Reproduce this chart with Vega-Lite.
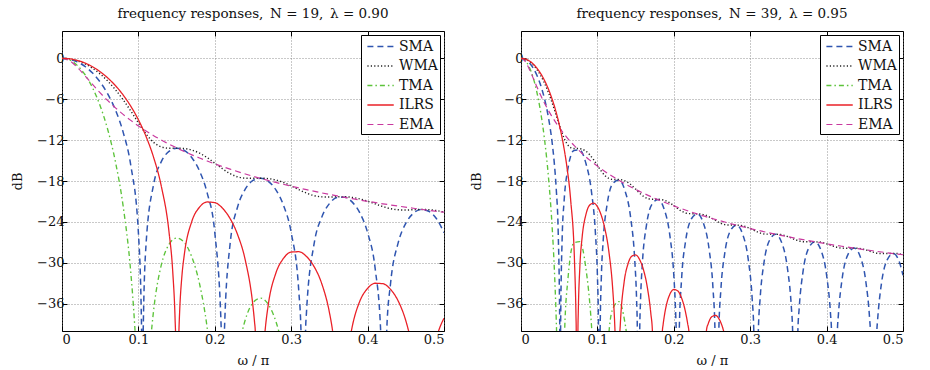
{
  "$schema": "https://vega.github.io/schema/vega-lite/v6.json",
  "padding": {"left": 11, "top": 6, "right": 5, "bottom": 4},
  "background": "white",
  "config": {
    "font": "DejaVu Serif",
    "view": {"stroke": "black", "strokeWidth": 1},
    "title": {"font": "DejaVu Serif", "fontSize": 13.5, "fontWeight": "normal", "color": "#111", "offset": 10, "anchor": "middle", "frame": "group"},
    "axis": {"labelFont": "DejaVu Serif", "titleFont": "DejaVu Serif", "labelFontSize": 13, "titleFontSize": 13, "titleFontWeight": "normal", "labelColor": "#111", "titleColor": "#111", "tickColor": "#000", "domain": false}
  },
  "datasets": {
    "d": [
      {"p":"L","s":"SMA","x":0,"y":0},{"p":"L","s":"SMA","x":0.01,"y":-0.129},{"p":"L","s":"SMA","x":0.02,"y":-0.521},{"p":"L","s":"SMA","x":0.03,"y":-1.19},{"p":"L","s":"SMA","x":0.04,"y":-2.165},{"p":"L","s":"SMA","x":0.05,"y":-3.495},{"p":"L","s":"SMA","x":0.06,"y":-5.26},{"p":"L","s":"SMA","x":0.07,"y":-7.605},{"p":"L","s":"SMA","x":0.08,"y":-10.828},{"p":"L","s":"SMA","x":0.09,"y":-15.685},{"p":"L","s":"SMA","x":0.1,"y":-25.575},{"p":"L","s":"SMA","x":0.1042,"y":-40},{"p":"L","s":"SMA","x":0.10526,"y":-100},{"p":"L","s":"SMA","x":0.1063,"y":-40},{"p":"L","s":"SMA","x":0.11,"y":-27.304},{"p":"L","s":"SMA","x":0.12,"y":-18.447},{"p":"L","s":"SMA","x":0.13,"y":-15.156},{"p":"L","s":"SMA","x":0.14,"y":-13.653},{"p":"L","s":"SMA","x":0.15,"y":-13.182},{"p":"L","s":"SMA","x":0.16,"y":-13.505},{"p":"L","s":"SMA","x":0.17,"y":-14.583},{"p":"L","s":"SMA","x":0.18,"y":-16.533},{"p":"L","s":"SMA","x":0.19,"y":-19.749},{"p":"L","s":"SMA","x":0.2,"y":-25.576},{"p":"L","s":"SMA","x":0.2085,"y":-40},{"p":"L","s":"SMA","x":0.21053,"y":-100},{"p":"L","s":"SMA","x":0.2126,"y":-40},{"p":"L","s":"SMA","x":0.22,"y":-27.26},{"p":"L","s":"SMA","x":0.23,"y":-21.75},{"p":"L","s":"SMA","x":0.24,"y":-19.16},{"p":"L","s":"SMA","x":0.25,"y":-17.92},{"p":"L","s":"SMA","x":0.26,"y":-17.593},{"p":"L","s":"SMA","x":0.27,"y":-18.045},{"p":"L","s":"SMA","x":0.28,"y":-19.306},{"p":"L","s":"SMA","x":0.29,"y":-21.592},{"p":"L","s":"SMA","x":0.3,"y":-25.575},{"p":"L","s":"SMA","x":0.31,"y":-34.272},{"p":"L","s":"SMA","x":0.3128,"y":-40},{"p":"L","s":"SMA","x":0.31579,"y":-100},{"p":"L","s":"SMA","x":0.3188,"y":-40},{"p":"L","s":"SMA","x":0.32,"y":-37.27},{"p":"L","s":"SMA","x":0.33,"y":-27.188},{"p":"L","s":"SMA","x":0.34,"y":-23.302},{"p":"L","s":"SMA","x":0.35,"y":-21.321},{"p":"L","s":"SMA","x":0.36,"y":-20.432},{"p":"L","s":"SMA","x":0.37,"y":-20.377},{"p":"L","s":"SMA","x":0.38,"y":-21.1},{"p":"L","s":"SMA","x":0.39,"y":-22.711},{"p":"L","s":"SMA","x":0.4,"y":-25.575},{"p":"L","s":"SMA","x":0.41,"y":-30.936},{"p":"L","s":"SMA","x":0.4171,"y":-40},{"p":"L","s":"SMA","x":0.42105,"y":-100},{"p":"L","s":"SMA","x":0.425,"y":-40},{"p":"L","s":"SMA","x":0.43,"y":-33.068},{"p":"L","s":"SMA","x":0.44,"y":-27.083},{"p":"L","s":"SMA","x":0.45,"y":-24.205},{"p":"L","s":"SMA","x":0.46,"y":-22.729},{"p":"L","s":"SMA","x":0.47,"y":-22.189},{"p":"L","s":"SMA","x":0.48,"y":-22.438},{"p":"L","s":"SMA","x":0.49,"y":-23.499},{"p":"L","s":"SMA","x":0.5,"y":-25.575},

      {"p":"L","s":"TMA","x":0,"y":0},{"p":"L","s":"TMA","x":0.01,"y":-0.258},{"p":"L","s":"TMA","x":0.02,"y":-1.042},{"p":"L","s":"TMA","x":0.03,"y":-2.38},{"p":"L","s":"TMA","x":0.04,"y":-4.33},{"p":"L","s":"TMA","x":0.05,"y":-6.99},{"p":"L","s":"TMA","x":0.06,"y":-10.52},{"p":"L","s":"TMA","x":0.07,"y":-15.21},{"p":"L","s":"TMA","x":0.08,"y":-21.656},{"p":"L","s":"TMA","x":0.09,"y":-31.37},{"p":"L","s":"TMA","x":0.095,"y":-38.87},{"p":"L","s":"TMA","x":0.096,"y":-40.78},{"p":"L","s":"TMA","x":0.10526,"y":-100},{"p":"L","s":"TMA","x":0.117,"y":-40.21},{"p":"L","s":"TMA","x":0.118,"y":-38.99},{"p":"L","s":"TMA","x":0.12,"y":-36.894},{"p":"L","s":"TMA","x":0.13,"y":-30.312},{"p":"L","s":"TMA","x":0.14,"y":-27.306},{"p":"L","s":"TMA","x":0.15,"y":-26.364},{"p":"L","s":"TMA","x":0.16,"y":-27.01},{"p":"L","s":"TMA","x":0.17,"y":-29.166},{"p":"L","s":"TMA","x":0.18,"y":-33.066},{"p":"L","s":"TMA","x":0.19,"y":-39.498},{"p":"L","s":"TMA","x":0.191,"y":-40.35},{"p":"L","s":"TMA","x":0.21053,"y":-100},{"p":"L","s":"TMA","x":0.235,"y":-40.47},{"p":"L","s":"TMA","x":0.236,"y":-39.98},{"p":"L","s":"TMA","x":0.24,"y":-38.32},{"p":"L","s":"TMA","x":0.25,"y":-35.84},{"p":"L","s":"TMA","x":0.26,"y":-35.186},{"p":"L","s":"TMA","x":0.27,"y":-36.09},{"p":"L","s":"TMA","x":0.28,"y":-38.612},{"p":"L","s":"TMA","x":0.283,"y":-39.73},{"p":"L","s":"TMA","x":0.284,"y":-40.15},{"p":"L","s":"TMA","x":0.31579,"y":-100},{"p":"L","s":"TMA","x":0.5,"y":-100},

      {"p":"L","s":"WMA","x":0,"y":0},{"p":"L","s":"WMA","x":0.01,"y":-0.09},{"p":"L","s":"WMA","x":0.02,"y":-0.362},{"p":"L","s":"WMA","x":0.03,"y":-0.818},{"p":"L","s":"WMA","x":0.04,"y":-1.465},{"p":"L","s":"WMA","x":0.05,"y":-2.306},{"p":"L","s":"WMA","x":0.06,"y":-3.358},{"p":"L","s":"WMA","x":0.07,"y":-4.616},{"p":"L","s":"WMA","x":0.08,"y":-6.083},{"p":"L","s":"WMA","x":0.09,"y":-7.729},{"p":"L","s":"WMA","x":0.1,"y":-9.461},{"p":"L","s":"WMA","x":0.11,"y":-11.091},{"p":"L","s":"WMA","x":0.12,"y":-12.335},{"p":"L","s":"WMA","x":0.13,"y":-12.998},{"p":"L","s":"WMA","x":0.14,"y":-13.188},{"p":"L","s":"WMA","x":0.15,"y":-13.181},{"p":"L","s":"WMA","x":0.16,"y":-13.233},{"p":"L","s":"WMA","x":0.17,"y":-13.464},{"p":"L","s":"WMA","x":0.18,"y":-13.915},{"p":"L","s":"WMA","x":0.19,"y":-14.574},{"p":"L","s":"WMA","x":0.2,"y":-15.375},{"p":"L","s":"WMA","x":0.21,"y":-16.208},{"p":"L","s":"WMA","x":0.22,"y":-16.924},{"p":"L","s":"WMA","x":0.23,"y":-17.394},{"p":"L","s":"WMA","x":0.24,"y":-17.591},{"p":"L","s":"WMA","x":0.25,"y":-17.606},{"p":"L","s":"WMA","x":0.26,"y":-17.592},{"p":"L","s":"WMA","x":0.27,"y":-17.651},{"p":"L","s":"WMA","x":0.28,"y":-17.861},{"p":"L","s":"WMA","x":0.29,"y":-18.225},{"p":"L","s":"WMA","x":0.3,"y":-18.715},{"p":"L","s":"WMA","x":0.31,"y":-19.265},{"p":"L","s":"WMA","x":0.32,"y":-19.774},{"p":"L","s":"WMA","x":0.33,"y":-20.141},{"p":"L","s":"WMA","x":0.34,"y":-20.323},{"p":"L","s":"WMA","x":0.35,"y":-20.349},{"p":"L","s":"WMA","x":0.36,"y":-20.316},{"p":"L","s":"WMA","x":0.37,"y":-20.314},{"p":"L","s":"WMA","x":0.38,"y":-20.408},{"p":"L","s":"WMA","x":0.39,"y":-20.627},{"p":"L","s":"WMA","x":0.4,"y":-20.96},{"p":"L","s":"WMA","x":0.41,"y":-21.358},{"p":"L","s":"WMA","x":0.42,"y":-21.75},{"p":"L","s":"WMA","x":0.43,"y":-22.055},{"p":"L","s":"WMA","x":0.44,"y":-22.221},{"p":"L","s":"WMA","x":0.45,"y":-22.254},{"p":"L","s":"WMA","x":0.46,"y":-22.215},{"p":"L","s":"WMA","x":0.47,"y":-22.179},{"p":"L","s":"WMA","x":0.48,"y":-22.206},{"p":"L","s":"WMA","x":0.49,"y":-22.334},{"p":"L","s":"WMA","x":0.5,"y":-22.565},

      {"p":"L","s":"EMA","x":0,"y":0},{"p":"L","s":"EMA","x":0.01,"y":-0.369},{"p":"L","s":"EMA","x":0.02,"y":-1.32},{"p":"L","s":"EMA","x":0.03,"y":-2.55},{"p":"L","s":"EMA","x":0.04,"y":-3.837},{"p":"L","s":"EMA","x":0.05,"y":-5.074},{"p":"L","s":"EMA","x":0.06,"y":-6.221},{"p":"L","s":"EMA","x":0.07,"y":-7.271},{"p":"L","s":"EMA","x":0.08,"y":-8.232},{"p":"L","s":"EMA","x":0.09,"y":-9.11},{"p":"L","s":"EMA","x":0.1,"y":-9.917},{"p":"L","s":"EMA","x":0.11,"y":-10.66},{"p":"L","s":"EMA","x":0.12,"y":-11.348},{"p":"L","s":"EMA","x":0.13,"y":-11.988},{"p":"L","s":"EMA","x":0.14,"y":-12.584},{"p":"L","s":"EMA","x":0.15,"y":-13.143},{"p":"L","s":"EMA","x":0.16,"y":-13.667},{"p":"L","s":"EMA","x":0.17,"y":-14.161},{"p":"L","s":"EMA","x":0.18,"y":-14.627},{"p":"L","s":"EMA","x":0.19,"y":-15.068},{"p":"L","s":"EMA","x":0.2,"y":-15.487},{"p":"L","s":"EMA","x":0.22,"y":-16.264},{"p":"L","s":"EMA","x":0.24,"y":-16.971},{"p":"L","s":"EMA","x":0.26,"y":-17.618},{"p":"L","s":"EMA","x":0.28,"y":-18.213},{"p":"L","s":"EMA","x":0.3,"y":-18.762},{"p":"L","s":"EMA","x":0.32,"y":-19.271},{"p":"L","s":"EMA","x":0.34,"y":-19.744},{"p":"L","s":"EMA","x":0.36,"y":-20.185},{"p":"L","s":"EMA","x":0.38,"y":-20.597},{"p":"L","s":"EMA","x":0.4,"y":-20.982},{"p":"L","s":"EMA","x":0.42,"y":-21.343},{"p":"L","s":"EMA","x":0.44,"y":-21.681},{"p":"L","s":"EMA","x":0.46,"y":-21.999},{"p":"L","s":"EMA","x":0.48,"y":-22.297},{"p":"L","s":"EMA","x":0.5,"y":-22.577},

      {"p":"L","s":"ILRS","x":0,"y":0},{"p":"L","s":"ILRS","x":0.01,"y":-0.076},{"p":"L","s":"ILRS","x":0.02,"y":-0.308},{"p":"L","s":"ILRS","x":0.03,"y":-0.696},{"p":"L","s":"ILRS","x":0.04,"y":-1.251},{"p":"L","s":"ILRS","x":0.05,"y":-1.979},{"p":"L","s":"ILRS","x":0.06,"y":-2.896},{"p":"L","s":"ILRS","x":0.07,"y":-4.021},{"p":"L","s":"ILRS","x":0.08,"y":-5.384},{"p":"L","s":"ILRS","x":0.09,"y":-7.028},{"p":"L","s":"ILRS","x":0.1,"y":-9.019},{"p":"L","s":"ILRS","x":0.11,"y":-11.466},{"p":"L","s":"ILRS","x":0.12,"y":-14.569},{"p":"L","s":"ILRS","x":0.13,"y":-18.769},{"p":"L","s":"ILRS","x":0.14,"y":-25.409},{"p":"L","s":"ILRS","x":0.145,"y":-31.39},{"p":"L","s":"ILRS","x":0.148,"y":-38.21},{"p":"L","s":"ILRS","x":0.149,"y":-42.34},{"p":"L","s":"ILRS","x":0.1507,"y":-100},{"p":"L","s":"ILRS","x":0.152,"y":-44.97},{"p":"L","s":"ILRS","x":0.153,"y":-40.13},{"p":"L","s":"ILRS","x":0.154,"y":-37.12},{"p":"L","s":"ILRS","x":0.157,"y":-31.87},{"p":"L","s":"ILRS","x":0.16,"y":-28.867},{"p":"L","s":"ILRS","x":0.17,"y":-23.898},{"p":"L","s":"ILRS","x":0.18,"y":-21.836},{"p":"L","s":"ILRS","x":0.19,"y":-21.077},{"p":"L","s":"ILRS","x":0.2,"y":-21.173},{"p":"L","s":"ILRS","x":0.21,"y":-21.981},{"p":"L","s":"ILRS","x":0.22,"y":-23.507},{"p":"L","s":"ILRS","x":0.23,"y":-25.909},{"p":"L","s":"ILRS","x":0.24,"y":-29.656},{"p":"L","s":"ILRS","x":0.25,"y":-36.42},{"p":"L","s":"ILRS","x":0.252,"y":-38.67},{"p":"L","s":"ILRS","x":0.253,"y":-40.04},{"p":"L","s":"ILRS","x":0.2591,"y":-100},{"p":"L","s":"ILRS","x":0.265,"y":-41.05},{"p":"L","s":"ILRS","x":0.266,"y":-39.77},{"p":"L","s":"ILRS","x":0.27,"y":-36.14},{"p":"L","s":"ILRS","x":0.28,"y":-31.486},{"p":"L","s":"ILRS","x":0.29,"y":-29.335},{"p":"L","s":"ILRS","x":0.3,"y":-28.423},{"p":"L","s":"ILRS","x":0.31,"y":-28.372},{"p":"L","s":"ILRS","x":0.32,"y":-29.071},{"p":"L","s":"ILRS","x":0.33,"y":-30.559},{"p":"L","s":"ILRS","x":0.34,"y":-33.061},{"p":"L","s":"ILRS","x":0.35,"y":-37.26},{"p":"L","s":"ILRS","x":0.354,"y":-39.84},{"p":"L","s":"ILRS","x":0.355,"y":-40.64},{"p":"L","s":"ILRS","x":0.3657,"y":-100},{"p":"L","s":"ILRS","x":0.378,"y":-40.45},{"p":"L","s":"ILRS","x":0.379,"y":-39.84},{"p":"L","s":"ILRS","x":0.38,"y":-39.29},{"p":"L","s":"ILRS","x":0.39,"y":-35.575},{"p":"L","s":"ILRS","x":0.4,"y":-33.747},{"p":"L","s":"ILRS","x":0.41,"y":-32.997},{"p":"L","s":"ILRS","x":0.42,"y":-33.065},{"p":"L","s":"ILRS","x":0.43,"y":-33.897},{"p":"L","s":"ILRS","x":0.44,"y":-35.588},{"p":"L","s":"ILRS","x":0.45,"y":-38.485},{"p":"L","s":"ILRS","x":0.453,"y":-39.71},{"p":"L","s":"ILRS","x":0.454,"y":-40.17},{"p":"L","s":"ILRS","x":0.4718,"y":-100},{"p":"L","s":"ILRS","x":0.492,"y":-40.29},{"p":"L","s":"ILRS","x":0.493,"y":-39.95},{"p":"L","s":"ILRS","x":0.5,"y":-38.128},

      {"p":"R","s":"SMA","x":0,"y":0},{"p":"R","s":"SMA","x":0.005128,"y":-0.142},{"p":"R","s":"SMA","x":0.010256,"y":-0.579},{"p":"R","s":"SMA","x":0.015385,"y":-1.325},{"p":"R","s":"SMA","x":0.020513,"y":-2.418},{"p":"R","s":"SMA","x":0.025641,"y":-3.92},{"p":"R","s":"SMA","x":0.030769,"y":-5.939},{"p":"R","s":"SMA","x":0.035897,"y":-8.681},{"p":"R","s":"SMA","x":0.041026,"y":-12.614},{"p":"R","s":"SMA","x":0.04359,"y":-15.383},{"p":"R","s":"SMA","x":0.046154,"y":-19.22},{"p":"R","s":"SMA","x":0.048718,"y":-25.602},{"p":"R","s":"SMA","x":0.050769,"y":-40},{"p":"R","s":"SMA","x":0.051282,"y":-100},{"p":"R","s":"SMA","x":0.051795,"y":-40},{"p":"R","s":"SMA","x":0.053846,"y":-26.47},{"p":"R","s":"SMA","x":0.05641,"y":-20.961},{"p":"R","s":"SMA","x":0.061538,"y":-16.129},{"p":"R","s":"SMA","x":0.069231,"y":-13.536},{"p":"R","s":"SMA","x":0.076923,"y":-13.444},{"p":"R","s":"SMA","x":0.084615,"y":-15.27},{"p":"R","s":"SMA","x":0.092308,"y":-19.634},{"p":"R","s":"SMA","x":0.097436,"y":-25.685},{"p":"R","s":"SMA","x":0.1,"y":-31.821},{"p":"R","s":"SMA","x":0.101538,"y":-40},{"p":"R","s":"SMA","x":0.102564,"y":-100},{"p":"R","s":"SMA","x":0.10359,"y":-40},{"p":"R","s":"SMA","x":0.105128,"y":-32.252},{"p":"R","s":"SMA","x":0.107692,"y":-26.547},{"p":"R","s":"SMA","x":0.112821,"y":-21.362},{"p":"R","s":"SMA","x":0.120513,"y":-18.315},{"p":"R","s":"SMA","x":0.128205,"y":-17.843},{"p":"R","s":"SMA","x":0.135897,"y":-19.345},{"p":"R","s":"SMA","x":0.14359,"y":-23.428},{"p":"R","s":"SMA","x":0.148718,"y":-29.313},{"p":"R","s":"SMA","x":0.151282,"y":-35.37},{"p":"R","s":"SMA","x":0.152308,"y":-40},{"p":"R","s":"SMA","x":0.153846,"y":-100},{"p":"R","s":"SMA","x":0.155385,"y":-40},{"p":"R","s":"SMA","x":0.15641,"y":-35.655},{"p":"R","s":"SMA","x":0.158974,"y":-29.881},{"p":"R","s":"SMA","x":0.164103,"y":-24.566},{"p":"R","s":"SMA","x":0.171795,"y":-21.342},{"p":"R","s":"SMA","x":0.179487,"y":-20.709},{"p":"R","s":"SMA","x":0.187179,"y":-22.066},{"p":"R","s":"SMA","x":0.194872,"y":-26.019},{"p":"R","s":"SMA","x":0.2,"y":-31.822},{"p":"R","s":"SMA","x":0.202564,"y":-37.84},{"p":"R","s":"SMA","x":0.203128,"y":-40},{"p":"R","s":"SMA","x":0.205128,"y":-100},{"p":"R","s":"SMA","x":0.207128,"y":-40},{"p":"R","s":"SMA","x":0.210256,"y":-32.242},{"p":"R","s":"SMA","x":0.215385,"y":-26.858},{"p":"R","s":"SMA","x":0.223077,"y":-23.538},{"p":"R","s":"SMA","x":0.230769,"y":-22.816},{"p":"R","s":"SMA","x":0.238462,"y":-24.091},{"p":"R","s":"SMA","x":0.246154,"y":-27.967},{"p":"R","s":"SMA","x":0.251282,"y":-33.722},{"p":"R","s":"SMA","x":0.253897,"y":-40},{"p":"R","s":"SMA","x":0.25641,"y":-100},{"p":"R","s":"SMA","x":0.258923,"y":-40},{"p":"R","s":"SMA","x":0.261538,"y":-34.05},{"p":"R","s":"SMA","x":0.266667,"y":-28.624},{"p":"R","s":"SMA","x":0.274359,"y":-25.243},{"p":"R","s":"SMA","x":0.282051,"y":-24.465},{"p":"R","s":"SMA","x":0.289744,"y":-25.686},{"p":"R","s":"SMA","x":0.297436,"y":-29.51},{"p":"R","s":"SMA","x":0.302564,"y":-35.233},{"p":"R","s":"SMA","x":0.304718,"y":-40},{"p":"R","s":"SMA","x":0.307692,"y":-100},{"p":"R","s":"SMA","x":0.310667,"y":-40},{"p":"R","s":"SMA","x":0.312821,"y":-35.499},{"p":"R","s":"SMA","x":0.317949,"y":-30.043},{"p":"R","s":"SMA","x":0.325641,"y":-26.62},{"p":"R","s":"SMA","x":0.333333,"y":-25.801},{"p":"R","s":"SMA","x":0.341026,"y":-26.983},{"p":"R","s":"SMA","x":0.348718,"y":-30.771},{"p":"R","s":"SMA","x":0.353846,"y":-36.47},{"p":"R","s":"SMA","x":0.355538,"y":-40},{"p":"R","s":"SMA","x":0.358974,"y":-100},{"p":"R","s":"SMA","x":0.36241,"y":-40},{"p":"R","s":"SMA","x":0.364103,"y":-36.69},{"p":"R","s":"SMA","x":0.369231,"y":-31.214},{"p":"R","s":"SMA","x":0.376923,"y":-27.759},{"p":"R","s":"SMA","x":0.384615,"y":-26.91},{"p":"R","s":"SMA","x":0.392308,"y":-28.063},{"p":"R","s":"SMA","x":0.4,"y":-31.822},{"p":"R","s":"SMA","x":0.405128,"y":-37.502},{"p":"R","s":"SMA","x":0.40641,"y":-40},{"p":"R","s":"SMA","x":0.410256,"y":-100},{"p":"R","s":"SMA","x":0.414103,"y":-40},{"p":"R","s":"SMA","x":0.415385,"y":-37.69},{"p":"R","s":"SMA","x":0.420513,"y":-32.195},{"p":"R","s":"SMA","x":0.428205,"y":-28.716},{"p":"R","s":"SMA","x":0.435897,"y":-27.842},{"p":"R","s":"SMA","x":0.44359,"y":-28.972},{"p":"R","s":"SMA","x":0.451282,"y":-32.707},{"p":"R","s":"SMA","x":0.45641,"y":-38.375},{"p":"R","s":"SMA","x":0.457282,"y":-40},{"p":"R","s":"SMA","x":0.461538,"y":-100},{"p":"R","s":"SMA","x":0.465795,"y":-40},{"p":"R","s":"SMA","x":0.466667,"y":-38.534},{"p":"R","s":"SMA","x":0.471795,"y":-33.027},{"p":"R","s":"SMA","x":0.479487,"y":-29.527},{"p":"R","s":"SMA","x":0.487179,"y":-28.634},{"p":"R","s":"SMA","x":0.494872,"y":-29.745},{"p":"R","s":"SMA","x":0.5,"y":-31.823},

      {"p":"R","s":"TMA","x":0,"y":0},{"p":"R","s":"TMA","x":0.005128,"y":-0.284},{"p":"R","s":"TMA","x":0.010256,"y":-1.158},{"p":"R","s":"TMA","x":0.015385,"y":-2.65},{"p":"R","s":"TMA","x":0.020513,"y":-4.836},{"p":"R","s":"TMA","x":0.025641,"y":-7.84},{"p":"R","s":"TMA","x":0.030769,"y":-11.878},{"p":"R","s":"TMA","x":0.035897,"y":-17.362},{"p":"R","s":"TMA","x":0.041026,"y":-25.228},{"p":"R","s":"TMA","x":0.04359,"y":-30.78},{"p":"R","s":"TMA","x":0.046154,"y":-38.44},{"p":"R","s":"TMA","x":0.046554,"y":-40},{"p":"R","s":"TMA","x":0.051282,"y":-100},{"p":"R","s":"TMA","x":0.057118,"y":-40},{"p":"R","s":"TMA","x":0.061538,"y":-32.258},{"p":"R","s":"TMA","x":0.069231,"y":-27.072},{"p":"R","s":"TMA","x":0.076923,"y":-26.888},{"p":"R","s":"TMA","x":0.084615,"y":-30.54},{"p":"R","s":"TMA","x":0.092308,"y":-39.268},{"p":"R","s":"TMA","x":0.092738,"y":-40},{"p":"R","s":"TMA","x":0.102564,"y":-100},{"p":"R","s":"TMA","x":0.115292,"y":-40},{"p":"R","s":"TMA","x":0.120513,"y":-36.63},{"p":"R","s":"TMA","x":0.128205,"y":-35.686},{"p":"R","s":"TMA","x":0.135897,"y":-38.69},{"p":"R","s":"TMA","x":0.137703,"y":-40},{"p":"R","s":"TMA","x":0.153846,"y":-100},{"p":"R","s":"TMA","x":0.5,"y":-100},

      {"p":"R","s":"WMA","x":0,"y":0},{"p":"R","s":"WMA","x":0.005,"y":-0.092},{"p":"R","s":"WMA","x":0.01,"y":-0.373},{"p":"R","s":"WMA","x":0.015,"y":-0.843},{"p":"R","s":"WMA","x":0.02,"y":-1.51},{"p":"R","s":"WMA","x":0.025,"y":-2.38},{"p":"R","s":"WMA","x":0.03,"y":-3.461},{"p":"R","s":"WMA","x":0.035,"y":-4.761},{"p":"R","s":"WMA","x":0.04,"y":-6.27},{"p":"R","s":"WMA","x":0.045,"y":-7.957},{"p":"R","s":"WMA","x":0.05,"y":-9.714},{"p":"R","s":"WMA","x":0.055,"y":-11.33},{"p":"R","s":"WMA","x":0.06,"y":-12.511},{"p":"R","s":"WMA","x":0.065,"y":-13.096},{"p":"R","s":"WMA","x":0.07,"y":-13.24},{"p":"R","s":"WMA","x":0.075,"y":-13.246},{"p":"R","s":"WMA","x":0.08,"y":-13.341},{"p":"R","s":"WMA","x":0.085,"y":-13.634},{"p":"R","s":"WMA","x":0.09,"y":-14.153},{"p":"R","s":"WMA","x":0.095,"y":-14.869},{"p":"R","s":"WMA","x":0.1,"y":-15.708},{"p":"R","s":"WMA","x":0.105,"y":-16.543},{"p":"R","s":"WMA","x":0.11,"y":-17.215},{"p":"R","s":"WMA","x":0.115,"y":-17.618},{"p":"R","s":"WMA","x":0.12,"y":-17.764},{"p":"R","s":"WMA","x":0.125,"y":-17.774},{"p":"R","s":"WMA","x":0.13,"y":-17.795},{"p":"R","s":"WMA","x":0.135,"y":-17.924},{"p":"R","s":"WMA","x":0.14,"y":-18.208},{"p":"R","s":"WMA","x":0.145,"y":-18.644},{"p":"R","s":"WMA","x":0.15,"y":-19.186},{"p":"R","s":"WMA","x":0.155,"y":-19.747},{"p":"R","s":"WMA","x":0.16,"y":-20.223},{"p":"R","s":"WMA","x":0.165,"y":-20.532},{"p":"R","s":"WMA","x":0.17,"y":-20.663},{"p":"R","s":"WMA","x":0.175,"y":-20.68},{"p":"R","s":"WMA","x":0.18,"y":-20.679},{"p":"R","s":"WMA","x":0.185,"y":-20.746},{"p":"R","s":"WMA","x":0.19,"y":-20.927},{"p":"R","s":"WMA","x":0.195,"y":-21.229},{"p":"R","s":"WMA","x":0.2,"y":-21.622},{"p":"R","s":"WMA","x":0.21,"y":-22.414},{"p":"R","s":"WMA","x":0.22,"y":-22.787},{"p":"R","s":"WMA","x":0.23,"y":-22.798},{"p":"R","s":"WMA","x":0.24,"y":-22.954},{"p":"R","s":"WMA","x":0.25,"y":-23.48},{"p":"R","s":"WMA","x":0.26,"y":-24.121},{"p":"R","s":"WMA","x":0.27,"y":-24.447},{"p":"R","s":"WMA","x":0.28,"y":-24.455},{"p":"R","s":"WMA","x":0.29,"y":-24.554},{"p":"R","s":"WMA","x":0.3,"y":-24.965},{"p":"R","s":"WMA","x":0.31,"y":-25.502},{"p":"R","s":"WMA","x":0.32,"y":-25.794},{"p":"R","s":"WMA","x":0.33,"y":-25.799},{"p":"R","s":"WMA","x":0.34,"y":-25.858},{"p":"R","s":"WMA","x":0.35,"y":-26.186},{"p":"R","s":"WMA","x":0.36,"y":-26.646},{"p":"R","s":"WMA","x":0.37,"y":-26.911},{"p":"R","s":"WMA","x":0.38,"y":-26.916},{"p":"R","s":"WMA","x":0.39,"y":-26.943},{"p":"R","s":"WMA","x":0.4,"y":-27.206},{"p":"R","s":"WMA","x":0.41,"y":-27.605},{"p":"R","s":"WMA","x":0.42,"y":-27.85},{"p":"R","s":"WMA","x":0.43,"y":-27.852},{"p":"R","s":"WMA","x":0.44,"y":-27.854},{"p":"R","s":"WMA","x":0.45,"y":-28.066},{"p":"R","s":"WMA","x":0.46,"y":-28.415},{"p":"R","s":"WMA","x":0.47,"y":-28.64},{"p":"R","s":"WMA","x":0.48,"y":-28.64},{"p":"R","s":"WMA","x":0.49,"y":-28.621},{"p":"R","s":"WMA","x":0.5,"y":-28.811},

      {"p":"R","s":"EMA","x":0,"y":0},{"p":"R","s":"EMA","x":0.005,"y":-0.389},{"p":"R","s":"EMA","x":0.01,"y":-1.383},{"p":"R","s":"EMA","x":0.015,"y":-2.657},{"p":"R","s":"EMA","x":0.02,"y":-3.979},{"p":"R","s":"EMA","x":0.025,"y":-5.242},{"p":"R","s":"EMA","x":0.03,"y":-6.408},{"p":"R","s":"EMA","x":0.035,"y":-7.474},{"p":"R","s":"EMA","x":0.04,"y":-8.446},{"p":"R","s":"EMA","x":0.045,"y":-9.336},{"p":"R","s":"EMA","x":0.05,"y":-10.153},{"p":"R","s":"EMA","x":0.06,"y":-11.603},{"p":"R","s":"EMA","x":0.07,"y":-12.857},{"p":"R","s":"EMA","x":0.08,"y":-13.958},{"p":"R","s":"EMA","x":0.09,"y":-14.938},{"p":"R","s":"EMA","x":0.1,"y":-15.82},{"p":"R","s":"EMA","x":0.12,"y":-17.354},{"p":"R","s":"EMA","x":0.14,"y":-18.653},{"p":"R","s":"EMA","x":0.16,"y":-19.778},{"p":"R","s":"EMA","x":0.18,"y":-20.767},{"p":"R","s":"EMA","x":0.2,"y":-21.649},{"p":"R","s":"EMA","x":0.22,"y":-22.441},{"p":"R","s":"EMA","x":0.24,"y":-23.16},{"p":"R","s":"EMA","x":0.26,"y":-23.816},{"p":"R","s":"EMA","x":0.28,"y":-24.418},{"p":"R","s":"EMA","x":0.3,"y":-24.973},{"p":"R","s":"EMA","x":0.32,"y":-25.487},{"p":"R","s":"EMA","x":0.34,"y":-25.965},{"p":"R","s":"EMA","x":0.36,"y":-26.409},{"p":"R","s":"EMA","x":0.38,"y":-26.824},{"p":"R","s":"EMA","x":0.4,"y":-27.211},{"p":"R","s":"EMA","x":0.42,"y":-27.574},{"p":"R","s":"EMA","x":0.44,"y":-27.914},{"p":"R","s":"EMA","x":0.46,"y":-28.233},{"p":"R","s":"EMA","x":0.48,"y":-28.533},{"p":"R","s":"EMA","x":0.5,"y":-28.814},

      {"p":"R","s":"ILRS","x":0,"y":0},{"p":"R","s":"ILRS","x":0.005,"y":-0.081},{"p":"R","s":"ILRS","x":0.01,"y":-0.327},{"p":"R","s":"ILRS","x":0.015,"y":-0.741},{"p":"R","s":"ILRS","x":0.02,"y":-1.33},{"p":"R","s":"ILRS","x":0.025,"y":-2.105},{"p":"R","s":"ILRS","x":0.03,"y":-3.083},{"p":"R","s":"ILRS","x":0.035,"y":-4.287},{"p":"R","s":"ILRS","x":0.04,"y":-5.749},{"p":"R","s":"ILRS","x":0.045,"y":-7.52},{"p":"R","s":"ILRS","x":0.05,"y":-9.69},{"p":"R","s":"ILRS","x":0.055,"y":-12.38},{"p":"R","s":"ILRS","x":0.06,"y":-15.86},{"p":"R","s":"ILRS","x":0.065,"y":-20.776},{"p":"R","s":"ILRS","x":0.07,"y":-29.69},{"p":"R","s":"ILRS","x":0.072,"y":-37.97},{"p":"R","s":"ILRS","x":0.0723,"y":-40},{"p":"R","s":"ILRS","x":0.07336,"y":-100},{"p":"R","s":"ILRS","x":0.0745,"y":-40.16},{"p":"R","s":"ILRS","x":0.075,"y":-37.11},{"p":"R","s":"ILRS","x":0.077,"y":-30.68},{"p":"R","s":"ILRS","x":0.08,"y":-26.268},{"p":"R","s":"ILRS","x":0.085,"y":-22.902},{"p":"R","s":"ILRS","x":0.09,"y":-21.529},{"p":"R","s":"ILRS","x":0.095,"y":-21.241},{"p":"R","s":"ILRS","x":0.1,"y":-21.756},{"p":"R","s":"ILRS","x":0.105,"y":-23.009},{"p":"R","s":"ILRS","x":0.11,"y":-25.092},{"p":"R","s":"ILRS","x":0.115,"y":-28.333},{"p":"R","s":"ILRS","x":0.12,"y":-33.783},{"p":"R","s":"ILRS","x":0.122,"y":-37.39},{"p":"R","s":"ILRS","x":0.123,"y":-39.89},{"p":"R","s":"ILRS","x":0.1235,"y":-41.46},{"p":"R","s":"ILRS","x":0.12613,"y":-100},{"p":"R","s":"ILRS","x":0.129,"y":-41.47},{"p":"R","s":"ILRS","x":0.13,"y":-39.04},{"p":"R","s":"ILRS","x":0.135,"y":-32.813},{"p":"R","s":"ILRS","x":0.14,"y":-30.174},{"p":"R","s":"ILRS","x":0.145,"y":-29.028},{"p":"R","s":"ILRS","x":0.15,"y":-28.845},{"p":"R","s":"ILRS","x":0.155,"y":-29.466},{"p":"R","s":"ILRS","x":0.16,"y":-30.904},{"p":"R","s":"ILRS","x":0.165,"y":-33.366},{"p":"R","s":"ILRS","x":0.17,"y":-37.5},{"p":"R","s":"ILRS","x":0.172,"y":-40.03},{"p":"R","s":"ILRS","x":0.178,"y":-100},{"p":"R","s":"ILRS","x":0.185,"y":-40.08},{"p":"R","s":"ILRS","x":0.186,"y":-39.08},{"p":"R","s":"ILRS","x":0.188,"y":-37.52},{"p":"R","s":"ILRS","x":0.19,"y":-36.347},{"p":"R","s":"ILRS","x":0.195,"y":-34.57},{"p":"R","s":"ILRS","x":0.2,"y":-33.909},{"p":"R","s":"ILRS","x":0.205,"y":-34.103},{"p":"R","s":"ILRS","x":0.21,"y":-35.107},{"p":"R","s":"ILRS","x":0.215,"y":-37.05},{"p":"R","s":"ILRS","x":0.218,"y":-38.83},{"p":"R","s":"ILRS","x":0.22,"y":-40.38},{"p":"R","s":"ILRS","x":0.2296,"y":-100},{"p":"R","s":"ILRS","x":0.243,"y":-39.7},{"p":"R","s":"ILRS","x":0.245,"y":-38.95},{"p":"R","s":"ILRS","x":0.25,"y":-37.876},{"p":"R","s":"ILRS","x":0.255,"y":-37.72},{"p":"R","s":"ILRS","x":0.258,"y":-38.02},{"p":"R","s":"ILRS","x":0.26,"y":-38.38},{"p":"R","s":"ILRS","x":0.265,"y":-39.92},{"p":"R","s":"ILRS","x":0.266,"y":-40.36},{"p":"R","s":"ILRS","x":0.281,"y":-100},{"p":"R","s":"ILRS","x":0.5,"y":-100}
    ]
  },
  "spacing": 25,
  "resolve": {
    "scale": {"color": "independent", "strokeDash": "independent", "strokeWidth": "independent"},
    "legend": {"color": "independent", "strokeDash": "independent"}
  },
  "hconcat": [
    {
      "title": "frequency responses,\u2002N = 19,\u2002λ = 0.90",
      "width": 382, "height": 300,
      "data": {"name": "d"},
      "transform": [{"filter": "datum.p === 'L'"}],
      "resolve": {"axis": {"x": "independent", "y": "independent"}},
      "layer": [
        {
          "mark": {"type": "line", "clip": true, "interpolate": "monotone"},
          "encoding": {
            "x": {"field": "x", "type": "quantitative", "scale": {"domain": [0, 0.5], "nice": false, "zero": false},
                  "axis": {"values": [0, 0.1, 0.2, 0.3, 0.4, 0.5], "format": "~g", "title": "ω / π", "grid": true, "gridDash": [1, 2], "gridColor": "#777", "gridWidth": 0.8, "tickSize": -5, "labelPadding": 7, "titlePadding": 8}},
            "y": {"field": "y", "type": "quantitative", "scale": {"domain": [-40, 4], "nice": false, "zero": false},
                  "axis": {"values": [-36, -30, -24, -18, -12, -6, 0], "labelExpr": "replace(datum.label, '-', '−')", "title": "dB", "grid": true, "gridDash": [1, 2], "gridColor": "#777", "gridWidth": 0.8, "tickSize": -5, "labelPadding": 3, "titlePadding": 12}},
            "color": {"field": "s", "type": "nominal",
                      "scale": {"domain": ["SMA", "WMA", "TMA", "ILRS", "EMA"], "range": ["#2f55b0", "#222222", "#5cc33a", "#ea2027", "#c9399f"]},
                      "legend": {"title": null, "orient": "top-right", "offset": 4, "strokeColor": "black", "fillColor": "white", "padding": 2, "symbolType": "M-0.6,0H2.5", "symbolSize": 289, "symbolStrokeWidth": 1.5, "labelFontSize": 14, "labelFont": "DejaVu Serif", "labelColor": "#111", "rowPadding": 2.5, "labelOffset": 17}},
            "strokeDash": {"field": "s", "type": "nominal",
                      "scale": {"domain": ["SMA", "WMA", "TMA", "ILRS", "EMA"], "range": [[6, 4], [1.2, 2.2], [5, 3, 1.5, 3], [1, 0], [6, 4]]},
                      "legend": {"title": null, "orient": "top-right", "offset": 4, "strokeColor": "black", "fillColor": "white", "padding": 2, "symbolType": "M-0.6,0H2.5", "symbolSize": 289, "symbolStrokeWidth": 1.5, "labelFontSize": 14, "labelFont": "DejaVu Serif", "labelColor": "#111", "rowPadding": 2.5, "labelOffset": 17}},
            "strokeWidth": {"field": "s", "type": "ordinal", "scale": {"domain": ["SMA", "WMA", "TMA", "ILRS", "EMA"], "range": [1.5, 1.2, 1.5, 1.8, 1.5]}, "legend": null}
          }
        },
        {
          "transform": [{"filter": "datum.x == 0 && datum.s === 'SMA'"}],
          "mark": {"type": "point", "opacity": 0},
          "encoding": {
            "x": {"field": "x", "type": "quantitative", "scale": {"domain": [0, 0.5], "nice": false, "zero": false},
                  "axis": {"orient": "top", "values": [0, 0.1, 0.2, 0.3, 0.4, 0.5], "labels": false, "title": null, "grid": false, "tickSize": -5}},
            "y": {"field": "y", "type": "quantitative", "scale": {"domain": [-40, 4], "nice": false, "zero": false},
                  "axis": {"orient": "right", "values": [-36, -30, -24, -18, -12, -6, 0], "labels": false, "title": null, "grid": false, "tickSize": -5}}
          }
        }
      ]
    },
    {
      "title": "frequency responses,\u2002N = 39,\u2002λ = 0.95",
      "width": 382, "height": 300,
      "data": {"name": "d"},
      "transform": [{"filter": "datum.p === 'R'"}],
      "resolve": {"axis": {"x": "independent", "y": "independent"}},
      "layer": [
        {
          "mark": {"type": "line", "clip": true, "interpolate": "monotone"},
          "encoding": {
            "x": {"field": "x", "type": "quantitative", "scale": {"domain": [0, 0.5], "nice": false, "zero": false},
                  "axis": {"values": [0, 0.1, 0.2, 0.3, 0.4, 0.5], "format": "~g", "title": "ω / π", "grid": true, "gridDash": [1, 2], "gridColor": "#777", "gridWidth": 0.8, "tickSize": -5, "labelPadding": 7, "titlePadding": 8}},
            "y": {"field": "y", "type": "quantitative", "scale": {"domain": [-40, 4], "nice": false, "zero": false},
                  "axis": {"values": [-36, -30, -24, -18, -12, -6, 0], "labelExpr": "replace(datum.label, '-', '−')", "title": "dB", "grid": true, "gridDash": [1, 2], "gridColor": "#777", "gridWidth": 0.8, "tickSize": -5, "labelPadding": 3, "titlePadding": 12}},
            "color": {"field": "s", "type": "nominal",
                      "scale": {"domain": ["SMA", "WMA", "TMA", "ILRS", "EMA"], "range": ["#2f55b0", "#222222", "#5cc33a", "#ea2027", "#c9399f"]},
                      "legend": {"title": null, "orient": "top-right", "offset": 4, "strokeColor": "black", "fillColor": "white", "padding": 2, "symbolType": "M-0.6,0H2.5", "symbolSize": 289, "symbolStrokeWidth": 1.5, "labelFontSize": 14, "labelFont": "DejaVu Serif", "labelColor": "#111", "rowPadding": 2.5, "labelOffset": 17}},
            "strokeDash": {"field": "s", "type": "nominal",
                      "scale": {"domain": ["SMA", "WMA", "TMA", "ILRS", "EMA"], "range": [[6, 4], [1.2, 2.2], [5, 3, 1.5, 3], [1, 0], [6, 4]]},
                      "legend": {"title": null, "orient": "top-right", "offset": 4, "strokeColor": "black", "fillColor": "white", "padding": 2, "symbolType": "M-0.6,0H2.5", "symbolSize": 289, "symbolStrokeWidth": 1.5, "labelFontSize": 14, "labelFont": "DejaVu Serif", "labelColor": "#111", "rowPadding": 2.5, "labelOffset": 17}},
            "strokeWidth": {"field": "s", "type": "ordinal", "scale": {"domain": ["SMA", "WMA", "TMA", "ILRS", "EMA"], "range": [1.5, 1.2, 1.5, 1.8, 1.5]}, "legend": null}
          }
        },
        {
          "transform": [{"filter": "datum.x == 0 && datum.s === 'SMA'"}],
          "mark": {"type": "point", "opacity": 0},
          "encoding": {
            "x": {"field": "x", "type": "quantitative", "scale": {"domain": [0, 0.5], "nice": false, "zero": false},
                  "axis": {"orient": "top", "values": [0, 0.1, 0.2, 0.3, 0.4, 0.5], "labels": false, "title": null, "grid": false, "tickSize": -5}},
            "y": {"field": "y", "type": "quantitative", "scale": {"domain": [-40, 4], "nice": false, "zero": false},
                  "axis": {"orient": "right", "values": [-36, -30, -24, -18, -12, -6, 0], "labels": false, "title": null, "grid": false, "tickSize": -5}}
          }
        }
      ]
    }
  ]
}
